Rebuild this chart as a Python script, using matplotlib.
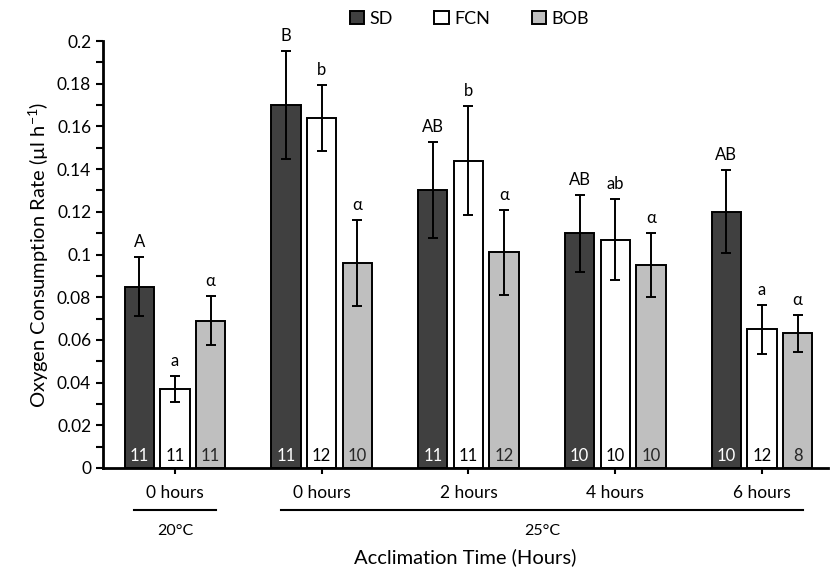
import numpy as np
import matplotlib.pyplot as plt
import matplotlib.transforms as mtransforms

plt.rcParams['font.family'] = ['Lato', 'DejaVu Sans']
plt.rcParams['mathtext.default'] = 'regular'

# data
groups = ['0 hours', '0 hours', '2 hours', '4 hours', '6 hours']
temps = ['20°C', '25°C']
temp_groups = [[0], [1, 2, 3, 4]]
series = ['SD', 'FCN', 'BOB']

sd = [0.085, 0.170, 0.130, 0.110, 0.120]
fcn = [0.037, 0.164, 0.144, 0.107, 0.065]
bob = [0.069, 0.096, 0.101, 0.095, 0.063]

sd_err = [0.014, 0.0255, 0.0225, 0.018, 0.0195]
fcn_err = [0.006, 0.0155, 0.0255, 0.019, 0.0115]
bob_err = [0.0115, 0.020, 0.020, 0.015, 0.0085]

sd_let = ['A', 'B', 'AB', 'AB', 'AB']
fcn_let = ['a', 'b', 'b', 'ab', 'a']
bob_let = ['α', 'α', 'α', 'α', 'α']

sd_n = [11, 11, 11, 10, 10]
fcn_n = [11, 12, 11, 10, 12]
bob_n = [11, 10, 12, 10, 8]

colors = ['#404040', '#ffffff', '#bfbfbf']
ncolors = ['white', 'black', '#262626']

fig = plt.figure(figsize=(8.35, 5.68), dpi=100)
ax = fig.add_axes([103/835, 100/568, 725/835, 427/568])

x = np.arange(len(groups))
w = 0.2
step = 0.243

values = [sd, fcn, bob]
errs = [sd_err, fcn_err, bob_err]
lets = [sd_let, fcn_let, bob_let]
ns = [sd_n, fcn_n, bob_n]

for i in range(3):
    pos = x + (i - 1) * step
    ax.bar(pos, values[i], w, color=colors[i], edgecolor='black', linewidth=1.4,
           label=series[i], zorder=2)
    ax.errorbar(pos, values[i], yerr=errs[i], fmt='none', ecolor='black',
                elinewidth=1.4, capsize=3.5, capthick=1.4, zorder=3)
    for j in range(len(groups)):
        ax.annotate(lets[i][j], (pos[j], values[i][j] + errs[i][j]),
                    xytext=(0, 5), textcoords='offset points',
                    ha='center', va='bottom', fontsize=12)
        ax.annotate(str(ns[i][j]), (pos[j], 0), xytext=(0, 3),
                    textcoords='offset points', ha='center', va='bottom',
                    fontsize=12, color=ncolors[i])

ax.set_ylim(0, 0.2)
ax.set_xlim(-0.49, 4.45)
ax.set_yticks(np.arange(0, 0.201, 0.02))
ax.set_yticklabels(['0'] + [f'{v:g}' for v in np.arange(0.02, 0.201, 0.02)])
ax.set_yticks(np.arange(0.01, 0.2, 0.02), minor=True)
ax.tick_params(axis='y', which='both', direction='out', length=5, width=1.5,
               labelsize=12.5)
ax.set_xticks(x)
ax.set_xticklabels(groups)
ax.tick_params(axis='x', direction='out', length=4, width=1.5, labelsize=12.5, pad=8)

for s in ['top', 'right']:
    ax.spines[s].set_visible(False)
for s in ['left', 'bottom']:
    ax.spines[s].set_linewidth(2)

ax.set_ylabel('Oxygen Consumption Rate (µl h$^{-1}$)', fontsize=14.5)
ax.set_xlabel('Acclimation Time (Hours)', fontsize=14.5, labelpad=34)

# temperature group lines under the tick labels
trans = mtransforms.blended_transform_factory(ax.transData, ax.transAxes)
for t, idx in zip(temps, temp_groups):
    x0 = x[idx[0]] - 0.28
    x1 = x[idx[-1]] + 0.28
    ax.plot([x0, x1], [-0.098, -0.098], color='black', lw=1.5,
            transform=trans, clip_on=False)
    ax.text((x0 + x1) / 2, -0.132, t, transform=trans, ha='center', va='top',
            fontsize=11.5)

fig.legend(loc='upper center', bbox_to_anchor=(0.562, 1.01), ncol=3,
           frameon=False, fontsize=13, handlelength=0.8, handleheight=0.8,
           handletextpad=0.3, columnspacing=2.3)

fig.savefig('out.png', dpi=100)
